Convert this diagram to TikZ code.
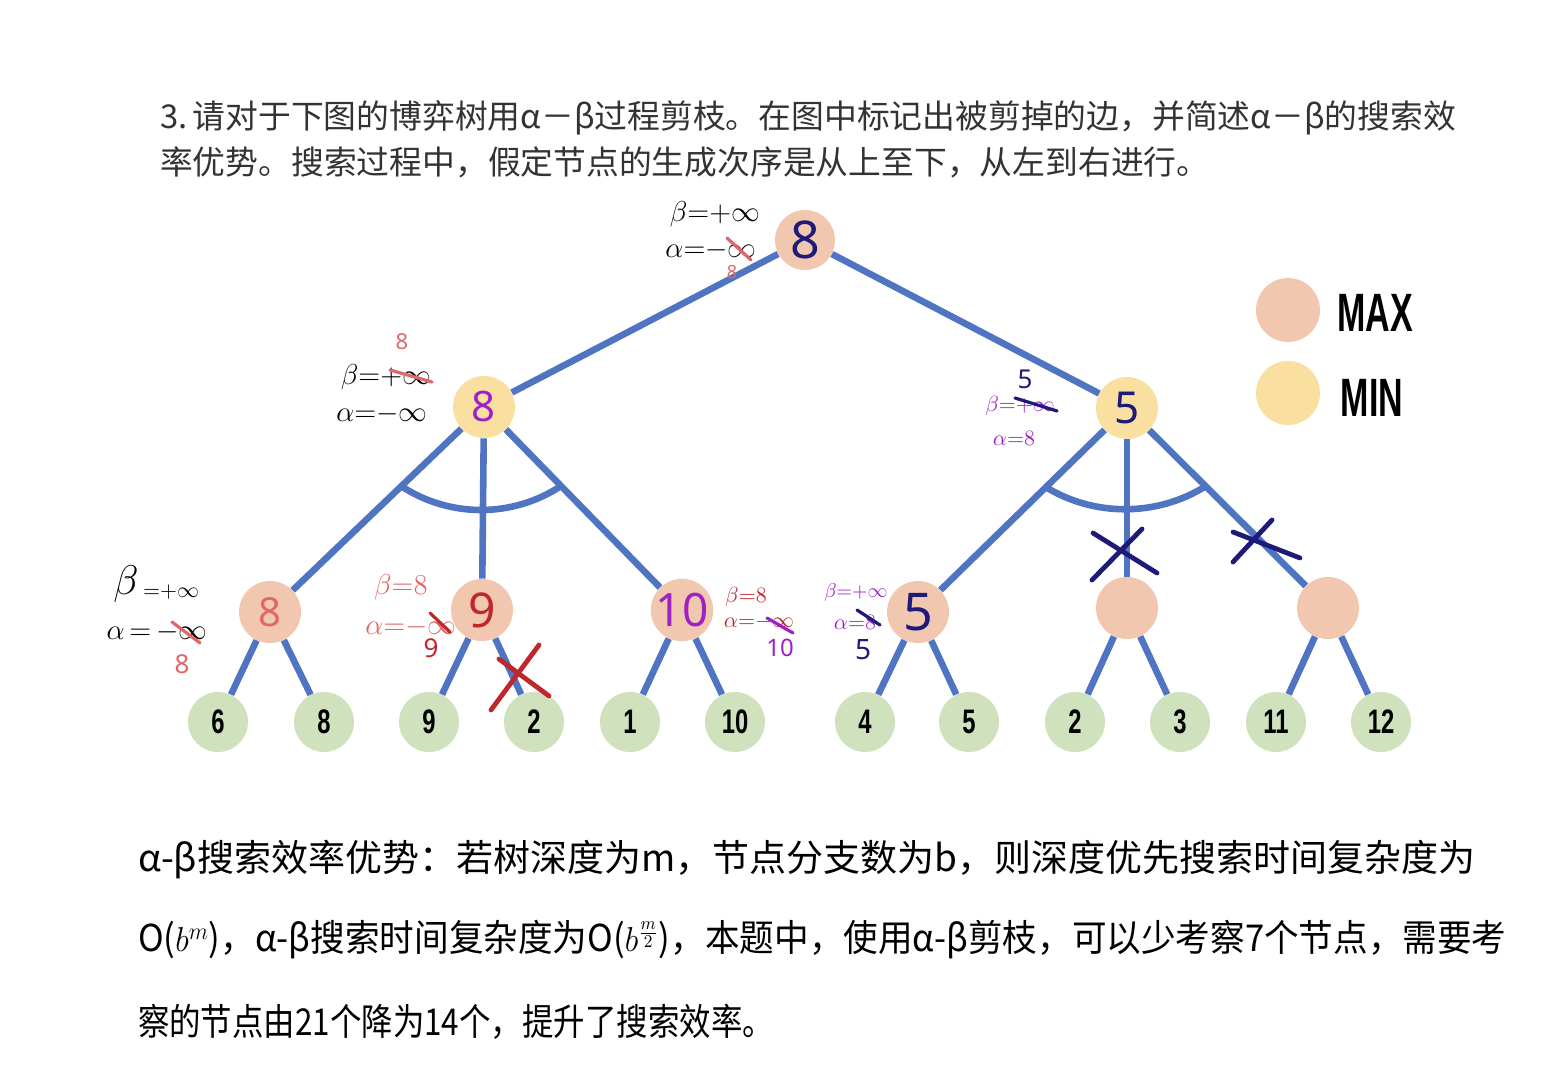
\documentclass[tikz,border=0pt]{standalone}
\usepackage{fontspec}
\usepackage{amsmath}
\newfontfamily\cjk{Noto Sans CJK SC}
\newfontfamily\leaffont{Liberation Sans}
\newfontfamily\handfont{Noto Sans}
\definecolor{edgeblue}{HTML}{4F74C2}
\definecolor{maxfill}{HTML}{F1C8AF}
\definecolor{minfill}{HTML}{F9E0A0}
\definecolor{leaffill}{HTML}{CFE2BD}
\definecolor{inknavy}{HTML}{1E1A78}
\definecolor{inkpurple}{HTML}{A020C8}
\definecolor{inksalmon}{HTML}{E06668}
\definecolor{inkred}{HTML}{C0272D}
\definecolor{titlegray}{HTML}{333333}
\newcommand{\leafnum}[1]{\scalebox{0.7}[1]{\fontsize{17}{17}\leaffont\bfseries #1}}
\newcommand{\legendtxt}[1]{\scalebox{0.63}[1]{\fontsize{27}{27}\leaffont\bfseries #1}}
\newcommand{\hs}[1]{\fontsize{#1}{#1}\selectfont}
\tikzset{
  edge/.style={draw=edgeblue, line width=3.3pt},
  maxnode/.style={circle, fill=maxfill, minimum size=31pt, inner sep=0pt, font=\handfont},
  minnode/.style={circle, fill=minfill, minimum size=31pt, inner sep=0pt, font=\handfont},
  leafnode/.style={circle, fill=leaffill, minimum size=30pt, inner sep=0pt},
  pen/.style={line width=1.6pt, line cap=round},
  xmark/.style={line width=2.4pt, line cap=round},
  note/.style={inner sep=0pt, outer sep=0pt},
}
\begin{document}
\begin{tikzpicture}[x=0.5pt, y=-0.5pt]
\useasboundingbox (0,0) rectangle (1548,1080);
\fill[white] (0,0) rectangle (1548,1080);

% title
\node[note, anchor=west, text=titlegray, font=\cjk\hs{16.4}] (t1) at (160,118) {3.\,请对于下图的博弈树用α－β过程剪枝。在图中标记出被剪掉的边，并简述α－β的搜索效};
\node[note, anchor=west, text=titlegray, font=\cjk\hs{16.4}] (t2) at (160,162) {率优势。搜索过程中，假定节点的生成次序是从上至下，从左到右进行。};

% tree nodes
\node[maxnode, minimum size=30pt, text=inknavy, font=\handfont\hs{26}] (root) at (805,240) {8};
\node[minnode, text=inkpurple, font=\handfont\hs{21}] (lmin) at (484,407) {8};
\node[minnode, text=inknavy, font=\handfont\hs{22}] (rmin) at (1127,408) {5};
\node[maxnode, text=inksalmon, font=\handfont\hs{20}] (ma) at (270,612) {8};
\node[maxnode, text=inkred, font=\handfont\hs{24}] (mb) at (482,610) {9};
\node[maxnode, text=inkpurple, font=\handfont\hs{23}] (mc) at (682,610) {10};
\node[maxnode, text=inknavy, font=\handfont\hs{26}] (md) at (918,612) {5};
\node[maxnode] (me) at (1127,608) {};
\node[maxnode] (mf) at (1328,608) {};
\node[leafnode] (l1) at (218,722) {\leafnum{6}};
\node[leafnode] (l2) at (324,722) {\leafnum{8}};
\node[leafnode] (l3) at (429,722) {\leafnum{9}};
\node[leafnode] (l4) at (534,722) {\leafnum{2}};
\node[leafnode] (l5) at (630,722) {\leafnum{1}};
\node[leafnode] (l6) at (735,722) {\leafnum{10}};
\node[leafnode] (l7) at (865,722) {\leafnum{4}};
\node[leafnode] (l8) at (969,722) {\leafnum{5}};
\node[leafnode] (l9) at (1075,722) {\leafnum{2}};
\node[leafnode] (l10) at (1180,722) {\leafnum{3}};
\node[leafnode] (l11) at (1276,722) {\leafnum{11}};
\node[leafnode] (l12) at (1381,722) {\leafnum{12}};

% edges
\foreach \a/\b in {root/lmin, root/rmin, lmin/ma, lmin/mb, lmin/mc, rmin/md, rmin/me, rmin/mf,
  ma/l1, ma/l2, mb/l3, mb/l4, mc/l5, mc/l6, md/l7, md/l8, me/l9, me/l10, mf/l11, mf/l12}
  \draw[edge] (\a) -- (\b);

% arcs
\coordinate (la1) at (401,486);
\coordinate (la2) at (561,486);
\coordinate (lc1) at (449.6,518);
\coordinate (lc2) at (512.4,518);
\draw[edge] (la1) .. controls (lc1) and (lc2) .. (la2);
\coordinate (ra1) at (1044,486);
\coordinate (ra2) at (1206,486);
\coordinate (rc1) at (1093,517);
\coordinate (rc2) at (1157,517);
\draw[edge] (ra1) .. controls (rc1) and (rc2) .. (ra2);

% legend
\node[maxnode, minimum size=32pt] (lgmax) at (1288,310) {};
\node[minnode, minimum size=32pt] (lgmin) at (1288,393) {};
\node[note] (lgmaxt) at (1375,313) {\legendtxt{MAX}};
\node[note] (lgmint) at (1372,398) {\legendtxt{MIN}};

% annotations: root
\node[note, font=\hs{14}] (r1) at (715,214) {$\beta{=}{+}\infty$};
\node[note, font=\hs{14}] (r2) at (711,250) {$\alpha{=}{-}\infty$};
\draw[pen, inksalmon] (727,238) -- (751,260);
\node[note, text=inksalmon, font=\handfont\hs{9}] (r3) at (732,272) {8};

% annotations: left MIN
\node[note, font=\hs{14}] (p1) at (386,377) {$\beta{=}{+}\infty$};
\draw[pen, inksalmon] (390,370) -- (432,382);
\node[note, text=inksalmon, font=\handfont\hs{11}] (p2) at (402,342) {8};
\node[note, font=\hs{14}] (p3) at (382,414) {$\alpha{=}{-}\infty$};

% annotations: right MIN
\node[note, text=inknavy, font=\handfont\hs{13}] (q1) at (1025,379) {5};
\node[note, text=inkpurple, font=\hs{11}] (q2) at (1020,406) {$\beta{=}{+}\infty$};
\draw[pen, inknavy] (1015,398) -- (1057,411);
\node[note, text=inkpurple, font=\hs{11}] (q3) at (1014,438) {$\alpha{=}8$};

% annotations: node a
\node[note, font=\hs{20}] (a1) at (126,584) {$\beta$};
\node[note, font=\hs{11}] (a2) at (171,592) {${=}{+}\infty$};
\node[note, font=\hs{15}] (a3) at (157,632) {$\alpha\,{=}\,{-}\infty$};
\draw[pen, inksalmon] (172,622) -- (200,643);
\node[note, text=inksalmon, font=\handfont\hs{13}] (a4) at (182,664) {8};

% annotations: node b
\node[note, text=inksalmon, font=\hs{14}] (b1) at (401,587) {$\beta{=}8$};
\node[note, text=inksalmon, font=\hs{14}] (b2) at (411,627) {$\alpha{=}{-}\infty$};
\draw[pen, inkred] (430,613) -- (450,632);
\node[note, text=inkred, font=\handfont\hs{13}] (b3) at (431,648) {9};

% annotations: node c
\node[note, text=inkred, font=\hs{11}] (c1) at (746,597) {$\beta{=}8$};
\node[note, text=inkred, font=\hs{11}] (c2) at (759,622) {$\alpha{=}{-}\infty$};
\draw[pen, inkpurple] (767,618) -- (793,633);
\node[note, text=inkpurple, font=\handfont\hs{12}] (c3) at (780,648) {10};

% annotations: node d
\node[note, text=inkpurple, font=\hs{10}] (d1) at (856,592) {$\beta{=}{+}\infty$};
\node[note, text=inkpurple, font=\hs{11}] (d2) at (855,622) {$\alpha{=}8$};
\draw[pen, inknavy] (857,610) -- (880,625);
\node[note, text=inknavy, font=\handfont\hs{14}] (d3) at (863,650) {5};

% prune marks
\draw[xmark, inkred] (491,710) -- (539,645);
\draw[xmark, inkred] (499,659) -- (549,696);
\draw[xmark, inknavy] (1093,533) -- (1157,573);
\draw[xmark, inknavy] (1092,580) -- (1142,529);
\draw[xmark, inknavy] (1233,532) -- (1300,558);
\draw[xmark, inknavy] (1233,562) -- (1272,520);

% answer text
\node[note, anchor=west, font=\cjk\hs{18.5}] (s1) at (138,860) {α-β搜索效率优势：若树深度为m，节点分支数为b，则深度优先搜索时间复杂度为};
\node[note, anchor=west, font=\cjk\hs{18.5}] (s2) at (138,940) {\scalebox{0.935}[1]{O($b^{m}$)，α-β搜索时间复杂度为O($b^{\frac{m}{2}}$)，本题中，使用α-β剪枝，可以少考察7个节点，需要考}};
\node[note, anchor=west, font=\cjk\hs{18.5}] (s3) at (138,1022) {\scalebox{0.85}[1]{察的节点由21个降为14个，提升了搜索效率。}};
\end{tikzpicture}
\end{document}
